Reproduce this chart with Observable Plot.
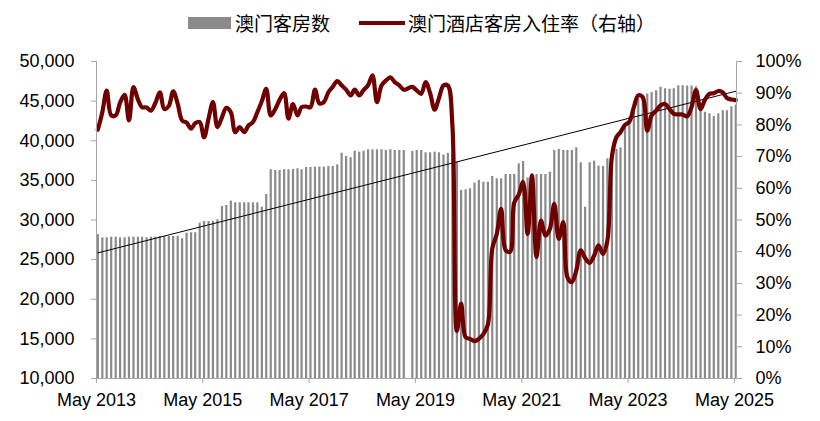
<!DOCTYPE html>
<html><head><meta charset="utf-8">
<script src="https://cdn.jsdelivr.net/npm/d3@7"></script>
<script src="https://cdn.jsdelivr.net/npm/@observablehq/plot@0.6"></script>
<style>
body{margin:0;background:#fff;}
#wrap{position:relative;width:820px;height:421px;overflow:hidden;}
#legend{position:relative;height:40px;font-family:"Noto Sans CJK SC","Noto Sans",sans-serif;font-size:19px;color:#000;}
#legend span{position:absolute;white-space:nowrap;line-height:19px;}
</style></head><body>
<div id="wrap">
<div id="legend">
<span style="left:188px;top:17px;width:43px;height:12px;background:#8a8a8a"></span>
<span style="left:235px;top:13px;">澳门客房数</span>
<span style="left:359px;top:21px;width:46px;height:4px;background:#700000"></span>
<span style="left:408px;top:13px;">澳门酒店客房入住率（右轴）</span>
</div>
<div id="chart"></div>
</div>
<script>
// Monthly series, first month = May 2013
const startYear = 2013, startMonth = 4;
const rooms = [28170,27750,27750,27830,27830,27750,27750,27830,27830,27830,
27830,27750,27830,27830,27920,27920,27920,27920,27920,27630,
28340,28390,28390,29600,29810,29810,29850,30020,31710,31830,
32380,32170,32170,32170,32170,32170,32170,31620,33220,36340,
36250,36250,36340,36340,36380,36460,36340,36630,36630,36670,
36670,36670,36750,36750,36960,38430,38010,37850,38690,38560,
38690,38860,38860,38860,38860,38770,38860,38770,38770,38770,
null,38650,38770,38770,38480,38480,38560,38480,38200,38400,
38350,37300,33730,33810,33940,34650,34990,34770,34770,35490,
35200,35200,35740,35740,35740,37090,37390,35300,35830,35740,
35740,35740,36040,38770,38900,38770,38770,38770,39110,37220,
31620,37220,37430,36800,36750,37720,38500,38900,39100,42000,
43000,44200,45300,45700,45900,46100,46300,46750,46550,46500,
46550,46950,46950,46900,46900,46800,44000,43600,43400,43050,
43400,43800,43800,44300,44500];
const occupancy = [78.5,84,90.8,83,83,87,89.5,81.4,91.9,88,
85.6,85.5,84.5,87,90.3,85,86,90.6,86.6,81.4,
80.7,78.8,80.5,80.9,76.1,82,87.2,79.3,82.4,85.4,
84,77.7,79.3,77.7,79.8,80.9,84,87.5,91.4,83,
85,87.9,90,82,86.6,83,85.6,85.8,85.6,91.1,
86.8,87.2,90.3,92,93.8,92.5,91.1,89.3,91.1,89.3,
91,92.5,95.6,87.2,92.4,94,95,93.5,92.5,91.1,
91.5,92,90.9,89.8,93.5,90,84.8,88.5,92.4,92.4,
80,15,23.6,13,12.5,11.8,12.5,14,17,41,
45.6,53.5,40.5,40,55.5,58,62,45.6,64,38.3,
49.8,45.1,47.2,55.1,44,49.3,32,30.4,34,40.4,
38,36.5,38.8,42,39.3,43.5,70,76.1,77.7,80,
81,85.6,89.3,88.7,78.2,83,84.5,86.1,86.6,85,
83.5,83.3,83.3,82.7,85.6,91,85,87.9,89.8,90,
90.7,90.2,88.5,88,87.8];
const trendValues = [25850, 46250];
const leftTicks = [10000,15000,20000,25000,30000,35000,40000,45000,50000];
const rightTicks = [0,10,20,30,40,50,60,70,80,90,100];
const xTickYears = [2013,2015,2017,2019,2021,2023,2025];

const dates = rooms.map((_, i) => new Date(Date.UTC(startYear, startMonth + i, 10)));
const data = rooms.map((r, i) => ({date: dates[i], rooms: r, occ: occupancy[i]}));
const trend = [{date: dates[0], value: trendValues[0]}, {date: dates[dates.length - 1], value: trendValues[1]}];
const toLeft = p => 10000 + p * 400;
const xTicks = xTickYears.map(y => new Date(Date.UTC(y, 4, 1)));
const axisGray = "#a6a6a6";

const chart = Plot.plot({
  width: 820, height: 381,
  marginLeft: 96, marginRight: 84, marginTop: 21, marginBottom: 43,
  style: {fontFamily: '"Liberation Sans", Arial, sans-serif', fontSize: "18px", color: "#000", background: "#fff"},
  x: {type: "utc", domain: [new Date(Date.UTC(2013, 4, 1)), new Date(Date.UTC(2025, 4, 15))]},
  y: {domain: [10000, 50000]},
  marks: [
    Plot.ruleX(data.filter(d => d.rooms != null), {x: "date", y1: 10000, y2: "rooms", stroke: "#8a8a8a", strokeWidth: 2.2}),
    Plot.line(trend, {x: "date", y: "value", stroke: "#000", strokeWidth: 1}),
    Plot.line(data, {x: "date", y: d => toLeft(d.occ), stroke: "#700000", strokeWidth: 4.2, curve: "catmull-rom", strokeLinejoin: "round"}),
    Plot.frame({anchor: "left", stroke: axisGray}),
    Plot.frame({anchor: "right", stroke: axisGray}),
    Plot.frame({anchor: "bottom", stroke: axisGray}),
    Plot.axisY({anchor: "left", ticks: leftTicks, tickFormat: d3.format(","), tickSize: 5, tickPadding: 17, label: null, stroke: axisGray, fill: "#000"}),
    Plot.axisY({anchor: "right", ticks: rightTicks.map(toLeft), tickFormat: v => Math.round((v - 10000) / 400) + "%", tickSize: 5, tickPadding: 14, label: null, stroke: axisGray, fill: "#000"}),
    Plot.axisX({ticks: xTicks, tickFormat: d3.utcFormat("%b %Y"), tickSize: 5, tickPadding: 10, label: null, stroke: axisGray, fill: "#000"})
  ]
});
document.getElementById("chart").appendChild(chart);
</script>
</body></html>
